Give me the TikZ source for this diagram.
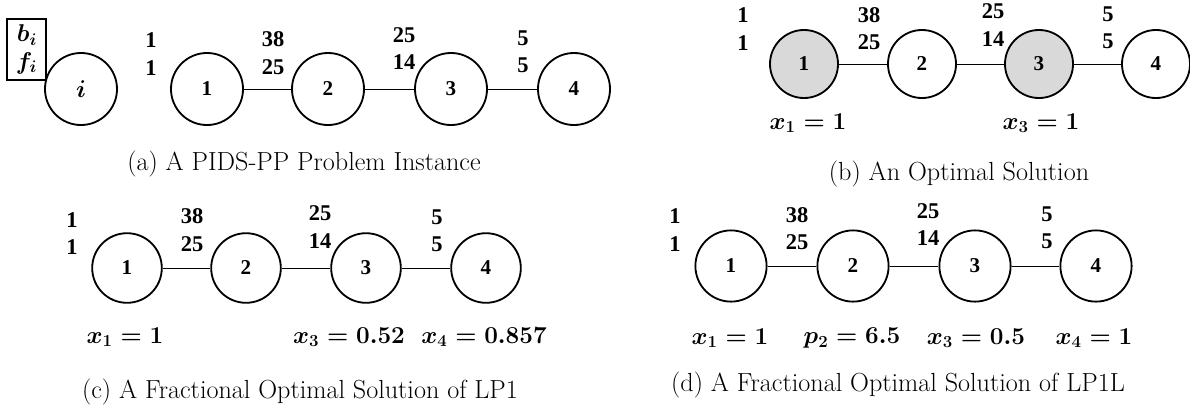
\documentclass[tikz,border=0pt]{standalone}
\usepackage{amsmath, amssymb, bm}
\usepackage{fontspec}
\newfontfamily\numfont{Liberation Serif}
\usetikzlibrary{shapes.geometric,positioning}

\tikzset{
  vtx/.style={draw,circle,line width=1.3pt,inner sep=0pt,font=\numfont\bfseries\fontsize{15}{17}\selectfont},
  va/.style={vtx,minimum size=18mm},
  vb/.style={vtx,minimum size=17mm},
  vc/.style={vtx,minimum size=17.4mm},
  vd/.style={vtx,minimum size=17.8mm},
  chosen/.style={fill=black!15},
  bfval/.style={align=center,font=\numfont\bfseries\fontsize{16}{19.5}\selectfont,inner sep=0pt},
  sol/.style={font=\fontsize{16.5}{18}\selectfont\boldmath,inner sep=0pt},
  subcap/.style={font=\fontsize{18.6}{22}\selectfont,inner sep=0pt},
  link/.style={line width=0.5pt}
}

\begin{document}
\begin{tikzpicture}[x=0.025cm,y=-0.025cm]
  \useasboundingbox (0,0) rectangle (1190,410);
  % (a) problem instance
  \node[draw,line width=1pt,minimum width=9.75mm,minimum height=15.25mm,align=right,font=\fontsize{16.5}{19.5}\selectfont\boldmath,inner sep=1pt] (key) at (26.5,49.5) {$b_i$\\$f_i$};
  \node[va,font=\fontsize{18}{20}\selectfont\boldmath] (ai) at (81,89) {$i$};
  \node[va] (a1) at (207,89) {1};
  \node[va] (a2) at (328,89) {2};
  \node[va] (a3) at (451,89) {3};
  \node[va] (a4) at (574,89) {4};
  \draw[link] (a1) -- (a2);
  \draw[link] (a2) -- (a3);
  \draw[link] (a3) -- (a4);
  \node[bfval] (ab1) at (151,54) {1\\1};
  \node[bfval] (ab2) at (273,53) {38\\25};
  \node[bfval] (ab3) at (404,48.5) {25\\14};
  \node[bfval] (ab4) at (523,51.5) {5\\5};
  \node[subcap] (capa) at (304,164) {(a) A PIDS-PP Problem Instance};
  % (b) optimal solution
  \node[vb,chosen] (b1) at (804,64) {1};
  \node[vb] (b2) at (922,64) {2};
  \node[vb,chosen] (b3) at (1039,64) {3};
  \node[vb] (b4) at (1156,64) {4};
  \draw[link] (b1) -- (b2);
  \draw[link] (b2) -- (b3);
  \draw[link] (b3) -- (b4);
  \node[bfval] (bb1) at (743,29) {1\\1};
  \node[bfval] (bb2) at (869,28.5) {38\\25};
  \node[bfval] (bb3) at (993,25) {25\\14};
  \node[bfval] (bb4) at (1108,28) {5\\5};
  \node[sol] (bx1) at (808,123) {$x_1 = 1$};
  \node[sol] (bx3) at (1041,123) {$x_3 = 1$};
  \node[subcap] (capb) at (959,174) {(b) An Optimal Solution};
  % (c) fractional solution of LP1
  \node[vc] (c1) at (127,268) {1};
  \node[vc] (c2) at (246,268) {2};
  \node[vc] (c3) at (366,268) {3};
  \node[vc] (c4) at (486,268) {4};
  \draw[link] (c1) -- (c2);
  \draw[link] (c2) -- (c3);
  \draw[link] (c3) -- (c4);
  \node[bfval] (cb1) at (72,233.5) {1\\1};
  \node[bfval] (cb2) at (192,230) {38\\25};
  \node[bfval] (cb3) at (320,227) {25\\14};
  \node[bfval] (cb4) at (437,230.5) {5\\5};
  \node[sol] (cx1) at (125,337) {$x_1 = 1$};
  \node[sol] (cx3) at (349,337) {$x_3 = 0.52$};
  \node[sol] (cx4) at (484,337) {$x_4 = 0.857$};
  \node[subcap] (capc) at (300,392) {(c) A Fractional Optimal Solution of LP1};
  % (d) fractional solution of LP1L
  \node[vd] (d1) at (731,266) {1};
  \node[vd] (d2) at (853,266) {2};
  \node[vd] (d3) at (975,266) {3};
  \node[vd] (d4) at (1096,266) {4};
  \draw[link] (d1) -- (d2);
  \draw[link] (d2) -- (d3);
  \draw[link] (d3) -- (d4);
  \node[bfval] (db1) at (675,230) {1\\1};
  \node[bfval] (db2) at (797,228.5) {38\\25};
  \node[bfval] (db3) at (928,224.5) {25\\14};
  \node[bfval] (db4) at (1047,227.5) {5\\5};
  \node[sol] (dx1) at (730,338) {$x_1 = 1$};
  \node[sol] (dp2) at (852,338) {$p_2 = 6.5$};
  \node[sol] (dx3) at (976,338) {$x_3 = 0.5$};
  \node[sol] (dx4) at (1094,338) {$x_4 = 1$};
  \node[subcap] (capd) at (898,385) {(d) A Fractional Optimal Solution of LP1L};
\end{tikzpicture}
\end{document}
